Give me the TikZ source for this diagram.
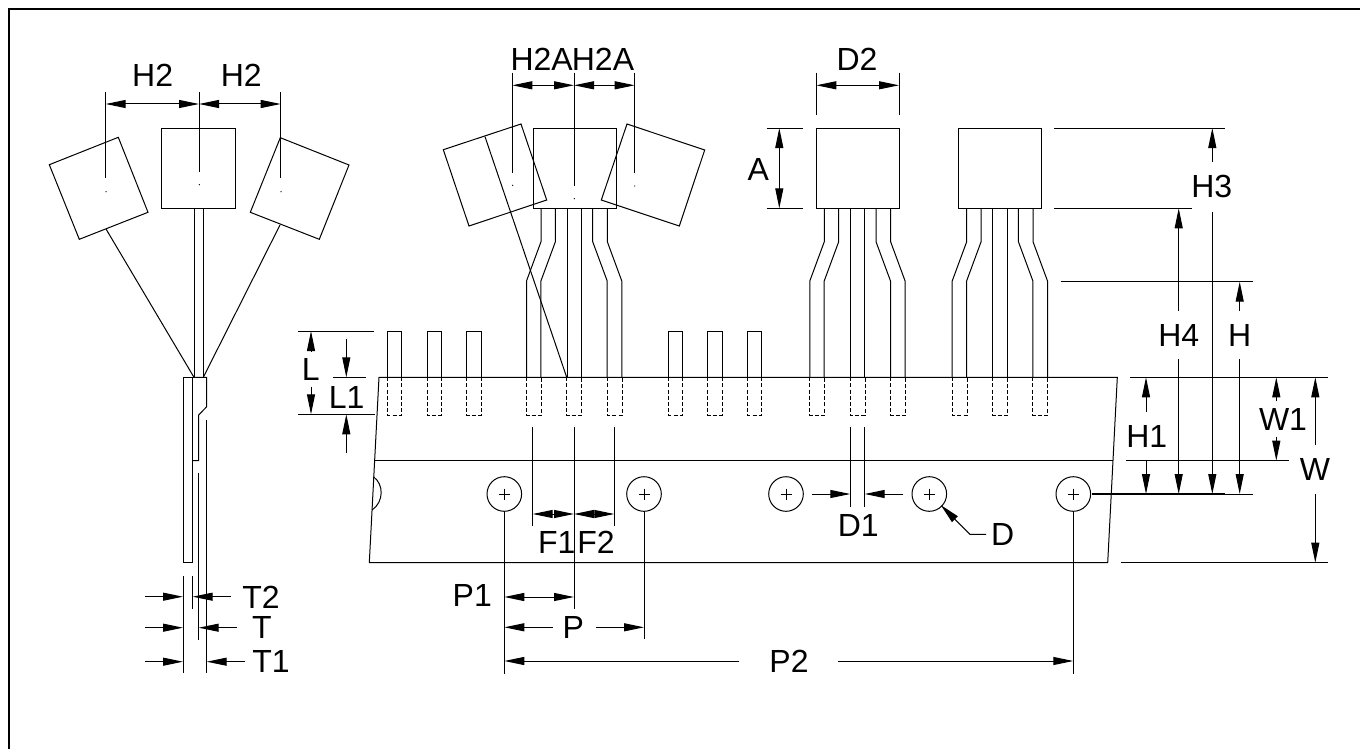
\documentclass[tikz,border=0pt]{standalone}
\usepackage{fontspec}
\setmainfont{Liberation Sans}
\usetikzlibrary{arrows.meta}

% one package: body, six lead lines, three dashed pins
\newcommand{\pkgfull}[1]{
  \draw[part] (#1,128) rectangle ++(83,80.3);
  \foreach \dx in {8,22.4}
    \draw[part] (#1+\dx,208.3) -- (#1+\dx,241.7) -- (#1+\dx-14.5,281) -- (#1+\dx-14.5,377.3);
  \foreach \dx in {34,48.3}
    \draw[part] (#1+\dx,208.3) -- (#1+\dx,377.3);
  \foreach \dx in {59.7,74.3}
    \draw[part] (#1+\dx,208.3) -- (#1+\dx,241.7) -- (#1+\dx+14.5,281) -- (#1+\dx+14.5,377.3);
  \foreach \dx in {-6.5,33.7,74.2}
    \draw[pin] (#1+\dx,377.3) -- (#1+\dx,415) -- (#1+\dx+15,415) -- (#1+\dx+15,377.3);
}

\begin{document}
\begin{tikzpicture}[
x=0.75pt, y=-0.75pt,
part/.style={draw, line width=0.75pt},
pin/.style={draw, line width=0.75pt, dash pattern=on 3pt off 1.6pt},
ext/.style={draw, line width=0.75pt},
dimto/.style={draw, line width=0.75pt, -{Triangle[length=15pt,width=6pt]}},
dimboth/.style={draw, line width=0.75pt, {Triangle[length=15pt,width=6pt]}-{Triangle[length=15pt,width=6pt]}},
lbl/.style={inner sep=0pt, font=\fontsize{24}{26}\selectfont}
]
\useasboundingbox (0,0) rectangle (1360,749);
\draw[line width=1.5pt] (9,749) -- (9,9) -- (1360,9);

% side view
\draw[part] (161.3,128.3) rectangle (235.7,208.3);
\draw[part] (49.3,164.7) -- (118.3,137.3) -- (148,212.3) -- (79.3,239.3) -- cycle;
\draw[part] (280.3,137.7) -- (349,165) -- (319.3,239.3) -- (250.3,212.3) -- cycle;
\draw[part] (194,208.3) -- (194,377.3);
\draw[part] (203.3,208.3) -- (203.3,377.3);
\draw[part] (106,229) -- (194,377.3);
\draw[part] (280,225) -- (203.3,377.3);
\draw[part] (183,377.3) rectangle (192.7,562.7);
\draw[part] (192.7,377.3) -- (206.7,377.3) -- (206.7,406.7) -- (198.7,415) -- (198.7,460.7) -- (192.7,460.7);
\draw[part] (206.7,420) -- (206.7,673);
\draw[part] (198.7,473) -- (198.7,640);
\foreach \px/\py in {106/191.7,199.3/184.7,281/191.7}
  \fill (\px,\py) circle (0.7);

\draw[ext] (105.7,92) -- (105.7,178);
\draw[ext] (199,92) -- (199,172);
\draw[ext] (280.7,92) -- (280.7,178);
\draw[dimboth] (105.7,104) -- (199,104);
\draw[dimboth] (199,104) -- (280.7,104);
\node[lbl] (lblHtwoL) at (152.7,75.7) {H2};
\node[lbl] (lblHtwoR) at (241.3,75.7) {H2};

\draw[ext] (183,576) -- (183,673);
\draw[ext] (192.7,576) -- (192.7,609);
\draw[dimto] (145,596.7) -- (183,596.7);
\draw[dimto] (231,596.7) -- (192.7,596.7);
\draw[dimto] (145,627.7) -- (183,627.7);
\draw[dimto] (237,627.7) -- (198.7,627.7);
\draw[dimto] (145,661.7) -- (183,661.7);
\draw[dimto] (245,661.7) -- (206.7,661.7);
\node[lbl] (lblTtwo) at (261,597) {T2};
\node[lbl] (lblT) at (262,627) {T};
\node[lbl] (lblTone) at (271,661) {T1};

% tape
\draw[part] (379,377.3) -- (369.3,562.7) -- (1107.7,562.7) -- (1117.3,377.3) -- cycle;
\draw[part] (375,460.7) -- (1113,460.7);
\draw[part] (373.3,476.7) .. controls (384,484) and (384,502) .. (372,510);
\foreach \hx in {504.3,644,786,929.3,1073.3} {
  \draw[part] (\hx,494) circle (17.3);
  \draw[line width=0.5pt] (\hx-5.5,494) -- (\hx+5.5,494) (\hx,488.5) -- (\hx,499.5);
}
\foreach \sx in {387.3,427,466.7,668.3,707.5,747.3} {
  \draw[part] (\sx,377.3) -- (\sx,331.7) -- (\sx+14.5,331.7) -- (\sx+14.5,377.3);
  \draw[pin] (\sx,377.3) -- (\sx,415) -- (\sx+14.5,415) -- (\sx+14.5,377.3);
}

% packages
\pkgfull{533}
\pkgfull{816.3}
\pkgfull{958.7}
\draw[part] (443.3,149.7) -- (521,124) -- (546.7,200) -- (469,226) -- cycle;
\draw[part] (627,124) -- (704.7,150) -- (679.3,226) -- (601.3,200) -- cycle;
\draw[part] (485,136.7) -- (566.7,377.3);
\foreach \px/\py in {512.7/185.3,574.3/198.7,634.7/186}
  \fill (\px,\py) circle (0.7);

\draw[ext] (512.3,72.7) -- (512.3,172.7);
\draw[ext] (574,72.7) -- (574,186);
\draw[ext] (634.7,72.7) -- (634.7,172.7);
\draw[dimboth] (512.3,85.3) -- (574,85.3);
\draw[dimboth] (574,85.3) -- (634.7,85.3);
\node[lbl] (lblHtwoaL) at (541.7,59) {H2A};
\node[lbl] (lblHtwoaR) at (603,59) {H2A};

\draw[ext] (816.3,72.7) -- (816.3,115);
\draw[ext] (899,72.7) -- (899,115);
\draw[dimboth] (816.3,85.3) -- (899,85.3);
\node[lbl] (lblDtwo) at (857,59) {D2};

\draw[ext] (766.7,128) -- (803.3,128);
\draw[ext] (766.7,208.3) -- (803.3,208.3);
\draw[dimboth] (779.3,128) -- (779.3,208.3);
\node[lbl] (lblA) at (758.3,169) {A};

% right hand dimensions
\draw[ext] (1054.3,128) -- (1225,128);
\draw[ext] (1054.3,208.3) -- (1191.7,208.3);
\draw[ext] (1060.7,281.7) -- (1252.7,281.7);
\draw[ext] (1130,377.3) -- (1328,377.3);
\draw[ext] (1126,460.7) -- (1289,460.7);
\draw[ext, line width=1.3pt] (1092.3,494) -- (1225,494);
\draw[ext] (1225,494) -- (1252.7,494);
\draw[ext] (1120.7,562.7) -- (1328,562.7);

\draw[dimto] (1212.3,161.7) -- (1212.3,128);
\draw[dimto] (1212.3,211.7) -- (1212.3,494);
\node[lbl] (lblHthree) at (1211.7,186.7) {H3};
\draw[dimto] (1178.7,310.7) -- (1178.7,208.3);
\draw[dimto] (1178.7,359.3) -- (1178.7,494);
\node[lbl] (lblHfour) at (1178.7,335) {H4};
\draw[dimto] (1239.7,310.7) -- (1239.7,281.7);
\draw[dimto] (1239.7,359.3) -- (1239.7,494);
\node[lbl] (lblH) at (1239.7,335) {H};
\draw[dimto] (1146,411.7) -- (1146,377.3);
\draw[dimto] (1146,460) -- (1146,494);
\node[lbl] (lblHone) at (1146.7,436) {H1};
\draw[dimto] (1276.3,401) -- (1276.3,377.3);
\draw[dimto] (1276.3,436.7) -- (1276.3,460.7);
\node[lbl] (lblWone) at (1283,419.3) {W1};
\draw[dimto] (1315.3,445) -- (1315.3,377.3);
\draw[dimto] (1315.3,494) -- (1315.3,562.7);
\node[lbl] (lblW) at (1315,469.3) {W};

% pin length
\draw[ext] (298.3,331) -- (374,331);
\draw[ext] (333.3,377.3) -- (365.7,377.3);
\draw[ext] (298.3,414.3) -- (375,414.3);
\draw[dimto] (311,351.7) -- (311,331);
\draw[dimto] (311,386.7) -- (311,414.3);
\node[lbl] (lblL) at (310.7,369) {L};
\draw[dimto] (346.3,339.3) -- (346.3,377.3);
\draw[dimto] (346.3,453.3) -- (346.3,414.3);
\node[lbl] (lblLone) at (346.7,397.7) {L1};

% pitch
\draw[ext] (504.3,511.3) -- (504.3,674);
\draw[ext] (574,427.3) -- (574,609.3);
\draw[ext] (644,511.3) -- (644,639.3);
\draw[ext] (1073.3,511.3) -- (1073.3,674);
\draw[ext] (532.7,427.3) -- (532.7,526);
\draw[ext] (614.3,427.3) -- (614.3,526);
\draw[dimboth] (532.7,514) -- (574,514);
\draw[dimboth] (574,514) -- (614.3,514);
\node[lbl] (lblFone) at (556.7,542.3) {F1};
\node[lbl] (lblFtwo) at (596,542.3) {F2};
\draw[dimboth] (504.3,597) -- (574,597);
\node[lbl] (lblPone) at (472.3,595.7) {P1};
\draw[dimto] (552.7,627.3) -- (504.3,627.3);
\draw[dimto] (595.7,627.3) -- (644,627.3);
\node[lbl] (lblP) at (573.3,627) {P};
\draw[dimto] (739.3,661) -- (504.3,661);
\draw[dimto] (838,661) -- (1073.3,661);
\node[lbl] (lblPtwo) at (789,661.7) {P2};

\draw[ext] (850.3,427.3) -- (850.3,506.7);
\draw[ext] (864.7,427.3) -- (864.7,506.7);
\draw[dimto] (811.7,494) -- (850.3,494);
\draw[dimto] (903.3,494) -- (864.7,494);
\node[lbl] (lblDone) at (858.3,525) {D1};
\draw[dimto] (986,534.3) -- (970,534.3) -- (940.7,505);
\node[lbl] (lblD) at (1002.7,534.3) {D};
\end{tikzpicture}
\end{document}
